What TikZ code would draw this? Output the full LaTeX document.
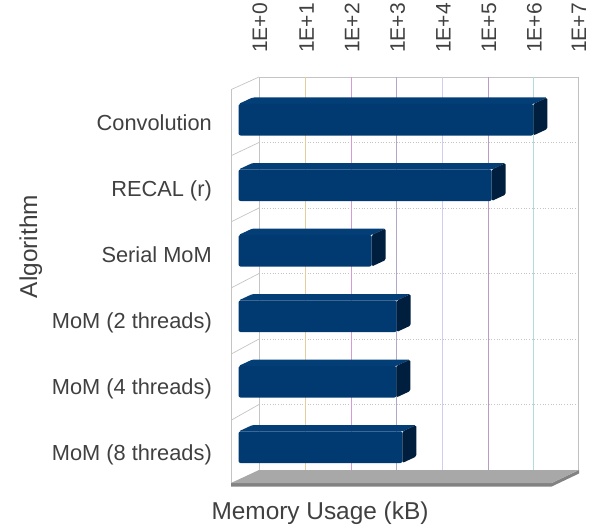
\documentclass[tikz,border=0pt]{standalone}
\usepackage{fontspec}
\setmainfont{Liberation Sans}
\definecolor{txt}{RGB}{64,64,64}
\definecolor{barfront}{RGB}{0,58,112}
\definecolor{bartop}{RGB}{4,62,118}
\definecolor{barside}{RGB}{0,31,62}
\definecolor{floortop}{RGB}{168,168,168}
\definecolor{flooredge}{RGB}{130,130,130}
\definecolor{wallline}{RGB}{196,196,196}
\definecolor{gA}{RGB}{196,196,196}
\definecolor{gB}{RGB}{228,206,160}
\definecolor{gC}{RGB}{212,156,212}
\definecolor{gD}{RGB}{178,168,204}
\definecolor{gE}{RGB}{206,206,240}
\definecolor{gF}{RGB}{186,156,198}
\definecolor{gG}{RGB}{176,220,220}
\definecolor{gH}{RGB}{192,192,192}
% one 3-D bar: #1 = top of the front face, #2 = right end of the front face
\newcommand{\membar}[2]{%
  \fill[bartop,rounded corners=1.5pt] (238.5,#1) -- (252.5,#1-6.5) -- (#2+14,#1-6.5) -- (#2,#1) -- cycle;
  \fill[barfront,rounded corners=2pt] (238.5,#1) rectangle (#2,#1+31.5);
  \fill[barside,rounded corners=1.5pt] (#2,#1) -- (#2+14,#1-6.5) -- (#2+14,#1+25) -- (#2,#1+31.5) -- cycle;
}
\begin{document}
\begin{tikzpicture}[x=1pt,y=-1pt,
    ticklab/.style={font=\fontsize{21}{25}\selectfont,text=txt,inner sep=0pt},
    catlab/.style={font=\fontsize{21.8}{26}\selectfont,text=txt,inner sep=0pt,anchor=base east},
    axtitle/.style={font=\fontsize{24.4}{29}\selectfont,text=txt,inner sep=0pt},
    wall/.style={draw=wallline,line width=0.7pt},
    hgrid/.style={draw=wallline,line width=0.7pt,dotted}]
\useasboundingbox (0,0) rectangle (599,532);

% side wall
\draw[wall] (231.7,89.3) -- (231.7,486);
\foreach \yy in {77,142.5,208,273.5,339,404.5}
  \draw[wall] (259,\yy) -- (231.7,{\yy+12.3+(\yy-77)*3.7/393});

% back wall grid
\draw[wall] (259,77) -- (578,77);
\foreach \yy in {142.5,208,273.5,339,404.5}
  \draw[hgrid] (259,\yy) -- (578,\yy);
\foreach \gx/\gc in {259/gA,305.6/gB,351.1/gC,396.7/gD,442.3/gE,487.9/gF,533.4/gG,578/gH}
  \draw[draw=\gc,line width=0.8pt] (\gx,77) -- (\gx,470);

% floor slab
\fill[flooredge] (231,483) -- (551.7,483) -- (579,470) -- (579,473.5) -- (551.7,486.5) -- (231,486.5) -- cycle;
\fill[floortop] (259,470) -- (579,470) -- (551.7,483) -- (231,483) -- cycle;

% bars
\membar{104}{533.3}
\membar{169.5}{491.7}
\membar{235}{371.7}
\membar{300.5}{396.7}
\membar{366}{396.3}
\membar{431.5}{402.3}

% decade labels
\foreach \gx/\n in {259/0,305.6/1,351.1/2,396.7/3,442.3/4,487.9/5,533.4/6,578/7}
  \node[ticklab,rotate=90,anchor=west] (dec\n) at (\gx+1,53) {1E+\n};

% category labels
\node[catlab] (cat1) at (212,131) {Convolution};
\node[catlab] (cat2) at (212,196.8) {RECAL (r)};
\node[catlab] (cat3) at (212,262.6) {Serial MoM};
\node[catlab] (cat4) at (212,328.4) {MoM (2 threads)};
\node[catlab] (cat5) at (212,394.2) {MoM (4 threads)};
\node[catlab] (cat6) at (212,460) {MoM (8 threads)};

% axis titles
\node[axtitle,rotate=90,anchor=base] (ytitle) at (37,246.5) {Algorithm};
\node[axtitle,anchor=base] (xtitle) at (320,519) {Memory Usage (kB)};
\end{tikzpicture}
\end{document}
